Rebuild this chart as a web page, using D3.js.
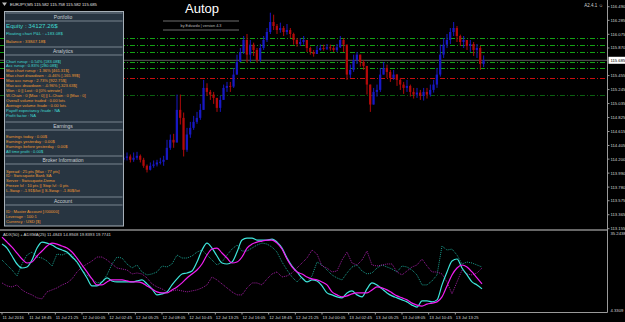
<!DOCTYPE html>
<html>
<head>
<meta charset="utf-8">
<script src="https://cdn.jsdelivr.net/npm/d3@7"></script>
<style>
  html, body { margin: 0; padding: 0; background: #000; }
  #chart { width: 625px; height: 322px; }
  text { font-family: "Liberation Sans", Arial, sans-serif; }
</style>
</head>
<body>
<div id="chart"></div>
<script>
// ---- data ----
const symbolLine = "EURJPY,M5 115.582 115.758 115.582 115.685";
const lastPrice = 115.685;

// 20 minute candles from 12 Jul 03:45 (older part is hidden behind the panel)
const firstOpen = 114.20;
const closes = [
  114.19, 114.22, 114.24, 114.19, 114.22, 114.25, 114.19, 114.10, 114.04, 114.10,
  114.12, 114.15, 114.16, 114.19, 114.37, 114.49, 114.45, 114.94, 114.82, 114.34,
  114.57, 114.67, 114.76, 114.82, 114.94, 115.27, 115.21, 115.17, 115.12, 114.97,
  115.09, 115.27, 115.30, 115.29, 115.47, 115.66, 115.81, 115.99, 115.77, 115.92,
  115.84, 115.69, 115.87, 115.99, 116.11, 116.26, 116.20, 116.14, 116.17, 116.11,
  116.14, 116.08, 115.99, 115.93, 115.96, 115.99, 115.87, 115.81, 115.78, 115.84,
  115.87, 115.86, 115.88, 115.87, 115.84, 115.88, 115.99, 115.92, 115.47, 115.54,
  115.69, 115.77, 115.66, 115.60, 115.32, 115.02, 115.21, 115.24, 115.47, 115.57,
  115.51, 115.42, 115.47, 115.39, 115.32, 115.27, 115.30, 115.21, 115.17, 115.20,
  115.15, 115.21, 115.17, 115.24, 115.32, 115.47, 115.77, 115.92, 115.99, 116.11,
  116.17, 116.05, 115.96, 115.99, 115.90, 115.93, 115.84, 115.87, 115.63, 115.685
];
const highs = [
  114.25, 114.28, 114.30, 114.27, 114.30, 114.31, 114.27, 114.22, 114.12, 114.15,
  114.18, 114.19, 114.22, 114.25, 114.49, 114.57, 114.58, 115.17, 115.17, 114.90,
  114.67, 114.76, 114.85, 114.91, 115.03, 115.39, 115.34, 115.24, 115.21, 115.09,
  115.15, 115.32, 115.36, 115.36, 115.57, 115.77, 115.87, 116.05, 116.08, 115.99,
  115.95, 115.87, 115.93, 116.05, 116.17, 116.40, 116.37, 116.23, 116.25, 116.20,
  116.23, 116.17, 116.10, 116.02, 116.02, 116.05, 115.99, 115.89, 115.84, 115.90,
  115.92, 115.92, 115.93, 115.92, 115.90, 115.93, 116.05, 116.02, 115.87, 115.62,
  115.77, 115.81, 115.72, 115.69, 115.51, 115.21, 115.27, 115.32, 115.57, 115.66,
  115.62, 115.54, 115.54, 115.48, 115.42, 115.36, 115.39, 115.32, 115.27, 115.27,
  115.24, 115.27, 115.27, 115.32, 115.39, 115.57, 115.92, 116.02, 116.08, 116.17,
  116.26, 116.20, 116.07, 116.05, 115.99, 115.99, 115.96, 115.93, 115.90, 115.758
];
const lows = [
  114.15, 114.16, 114.18, 114.15, 114.16, 114.19, 114.15, 114.07, 114.00, 114.03,
  114.07, 114.09, 114.12, 114.10, 114.19, 114.34, 114.37, 114.49, 114.72, 114.24,
  114.31, 114.52, 114.64, 114.73, 114.79, 114.97, 115.15, 115.09, 115.03, 114.91,
  114.91, 115.09, 115.21, 115.21, 115.27, 115.47, 115.66, 115.78, 115.65, 115.66,
  115.75, 115.65, 115.66, 115.84, 115.96, 116.08, 116.14, 116.08, 116.10, 116.05,
  116.07, 116.02, 115.92, 115.89, 115.90, 115.92, 115.81, 115.77, 115.74, 115.78,
  115.83, 115.83, 115.84, 115.83, 115.81, 115.81, 115.87, 115.81, 115.39, 115.42,
  115.51, 115.63, 115.59, 115.54, 115.17, 114.91, 115.09, 115.14, 115.21, 115.47,
  115.42, 115.36, 115.39, 115.30, 115.24, 115.18, 115.21, 115.14, 115.11, 115.12,
  115.09, 115.08, 115.11, 115.14, 115.20, 115.27, 115.44, 115.72, 115.87, 115.93,
  116.05, 115.96, 115.90, 115.87, 115.84, 115.81, 115.75, 115.72, 115.54, 115.582
];

// horizontal levels drawn by the EA
const greenLevels = [116.015, 115.910, 115.805, 115.655, 115.565];
const redLevels = [115.415];
const darkLevels = [115.168];

const priceTicks = [116.490, 116.285, 116.075, 115.870, 115.660, 115.455, 115.245, 115.035,
  114.825, 114.615, 114.405, 114.200, 113.990, 113.780, 113.575, 113.365, 113.155];

// ADX sub window, one value every 30 minutes from 11 Jul 16:05
const indTitle = "ADX(50) + ADXMA(25) 11.4843 14.8948 19.8393 19.7741";
const indTicks = [35.2438, 4.3309];
const adxMa = [
  33.6, 31.6, 29.6, 27.2, 24.8, 23.2, 23.6, 26.0, 28.0, 30.0,
  31.2, 30.8, 30.0, 29.2, 27.6, 25.2, 22.4, 19.6, 16.8, 14.4,
  14.4, 15.6, 16.4, 16.4, 16.4, 16.0, 15.6, 15.6, 15.2, 14.0,
  12.8, 11.6, 11.2, 11.2, 12.4, 13.6, 15.2, 17.2, 18.8, 20.4,
  22.8, 26.4, 28.8, 29.2, 27.2, 25.2, 23.2, 23.6, 25.6, 29.2,
  30.8, 31.6, 32.0, 32.4, 32.4, 31.2, 28.8, 24.8, 21.6, 19.6,
  18.8, 17.6, 16.8, 16.4, 15.6, 14.4, 11.6, 10.4, 9.6, 10.0,
  10.8, 11.2, 11.2, 11.2, 12.4, 13.6, 13.2, 12.4, 11.2, 10.0,
  9.2, 8.4, 7.1, 6.3, 5.9, 6.7, 7.1, 7.6, 9.6, 14.0,
  18.4, 21.2, 22.4, 21.6, 19.6, 17.2, 14.8
];
const adx = [
  30.8, 29.2, 26.0, 22.8, 21.2, 21.6, 24.4, 29.2, 31.6, 31.2,
  30.4, 29.2, 28.4, 27.6, 25.6, 23.6, 20.4, 17.2, 14.0, 14.0,
  15.6, 17.2, 16.0, 15.6, 15.6, 15.6, 15.6, 16.0, 16.4, 14.8,
  12.8, 10.4, 10.8, 11.6, 14.4, 16.8, 18.8, 19.2, 20.0, 23.6,
  28.4, 31.2, 29.2, 26.0, 23.2, 22.8, 23.6, 27.6, 32.4, 33.2,
  33.2, 32.4, 32.4, 32.4, 32.8, 31.6, 29.2, 25.2, 22.0, 19.6,
  17.2, 15.6, 16.4, 16.0, 14.0, 11.2, 10.4, 9.6, 9.2, 11.2,
  12.0, 10.4, 9.6, 12.8, 15.2, 14.4, 12.8, 11.2, 10.0, 9.2,
  8.4, 7.6, 6.3, 5.5, 8.0, 8.0, 7.6, 8.4, 14.4, 19.6,
  24.0, 24.8, 21.2, 18.4, 15.6, 14.4, 12.8
];
const plusDi = [
  24.4, 22.4, 20.4, 18.0, 22.8, 26.4, 27.6, 25.6, 25.2, 24.0,
  22.0, 26.8, 26.4, 27.2, 26.4, 23.2, 20.4, 18.4, 16.8, 15.2,
  15.6, 18.4, 22.8, 25.6, 25.2, 22.8, 21.2, 22.4, 19.6, 18.4,
  18.8, 19.6, 22.0, 21.6, 22.8, 26.4, 25.2, 25.2, 26.0, 27.6,
  28.4, 26.4, 24.4, 22.4, 23.6, 26.4, 28.8, 30.4, 28.0, 28.0,
  29.2, 30.4, 31.2, 30.8, 29.6, 27.6, 23.6, 20.4, 17.6, 15.6,
  17.6, 15.6, 18.0, 23.6, 22.4, 20.4, 18.4, 17.2, 16.4, 19.2,
  21.6, 22.4, 20.0, 18.8, 19.2, 21.2, 22.4, 21.6, 20.8, 19.6,
  22.0, 21.6, 20.4, 18.4, 14.4, 14.4, 16.0, 18.4, 30.0, 28.4,
  28.8, 26.4, 22.8, 23.6, 23.2, 22.4, 21.6
];
const minusDi = [
  15.2, 14.0, 13.6, 14.4, 12.4, 11.2, 10.4, 9.2, 8.8, 11.6,
  12.4, 13.2, 14.4, 15.2, 16.8, 19.6, 21.6, 22.8, 24.0, 25.6,
  25.6, 24.4, 22.8, 21.2, 20.8, 20.4, 18.8, 19.2, 18.8, 17.2,
  14.8, 13.6, 12.8, 11.6, 12.0, 12.4, 12.0, 11.6, 12.0, 12.4,
  13.2, 14.4, 17.6, 16.4, 14.8, 13.2, 11.6, 10.4, 10.4, 13.2,
  15.2, 15.2, 14.4, 16.8, 18.8, 19.6, 17.6, 18.0, 19.2, 21.2,
  23.2, 25.2, 28.4, 26.8, 22.0, 21.2, 19.6, 20.0, 24.4, 27.6,
  23.2, 22.4, 24.4, 28.0, 22.4, 22.0, 22.4, 22.8, 22.8, 19.6,
  18.4, 20.0, 21.6, 22.4, 24.8, 22.0, 19.6, 19.6, 18.8, 15.6,
  10.8, 15.6, 20.4, 18.8, 18.4, 19.2, 21.2
];

const timeLabels = ["11 Jul 2016", "11 Jul 18:45", "11 Jul 21:25", "12 Jul 00:05", "12 Jul 02:45",
  "12 Jul 05:25", "12 Jul 08:05", "12 Jul 10:45", "12 Jul 13:25", "12 Jul 16:05", "12 Jul 18:45",
  "12 Jul 21:25", "13 Jul 00:05", "13 Jul 02:45", "13 Jul 05:25", "13 Jul 08:05", "13 Jul 10:45",
  "13 Jul 13:25"];

// info panel text
const portfolioLines = ["Equity : 34127.26$", "Floating chart P&L : +183.08$", "Balance : 33847.18$"];
const portfolioTone = ["up", "up", "down"];
const analyticsLines = [
  "Chart runup : 0.54% [183.08$]",
  "Acc runup : 0.83% [280.08$]",
  "Max chart runup : 1.36% [461.31$]",
  "Max chart drawdown : -0.46% [-165.99$]",
  "Max acc runup : 2.73% [922.75$]",
  "Max acc drawdown : -0.96% [-323.63$]",
  "Won : 0 || Lost : 0 [0% winrate]",
  "W-Chain : 0 [Max : 0] || L-Chain : 0 [Max : 0]",
  "Overall volume traded : 0.00 lots",
  "Average volume /trade : 0.00 lots",
  "Payoff expectancy /trade : NA",
  "Profit factor : NA"
];
const analyticsTone = ["up", "up", "down", "down", "down", "down", "down", "down", "down", "down", "up", "up"];
const earningsLines = ["Earnings today : 0.00$", "Earnings yesterday : 0.00$",
  "Earnings before yesterday : 0.00$", "All time profit : 0.00$"];
const earningsTone = ["down", "down", "down", "up"];
const brokerLines = ["Spread : 25 pts [Max : 77 pts]", "ID : Swissquote Bank SA", "Server : Swissquote-Demo",
  "Freeze lvl : 10 pts || Stop lvl : 0 pts", "L-Swap : -1.91$/lot || S-Swap : -1.80$/lot"];
const accountLines = ["ID : Master Account [#00000]", "Leverage : 100:1", "Currency : USD [$]"];

// ---- layout ----
const width = 625, height = 322;
const axisX = 607.5;
const sepY = 230;
const subBottom = 312.5;
const toneColor = { up: "#3fd9cf", down: "#ef9a33" };
const bullColor = "#1818c4";
const bearColor = "#b30a0a";

let svg = d3.select("#chart").append("svg")
  .attr("width", width)
  .attr("height", height)
  .attr("viewBox", `0 0 ${width} ${height}`)
  .style("background", "#000");

// scales
const t0 = new Date(2016, 6, 11, 16, 5);
const x = d3.scaleTime()
  .domain([t0, d3.timeMinute.offset(t0, 48 * 60)])
  .range([2, 482]);
const y = d3.scaleLinear().domain([113.155, 116.490]).range([228.7, 6.7]);
const yInd = d3.scaleLinear().domain([4.3309, 35.2438]).range([310, 233]);

svg.append("clipPath").attr("id", "mainClip")
  .append("rect").attr("x", 0).attr("y", 0).attr("width", axisX).attr("height", sepY - 1);
svg.append("clipPath").attr("id", "subClip")
  .append("rect").attr("x", 0).attr("y", sepY + 1).attr("width", axisX).attr("height", subBottom - sepY - 1.5);

let main = svg.append("g").attr("clip-path", "url(#mainClip)");

// 1: level lines
function levelLines(levels, color) {
  main.selectAll(null)
    .data(levels)
    .join("line")
    .attr("x1", 0).attr("x2", axisX)
    .attr("y1", d => Math.round(y(d)) + 0.5)
    .attr("y2", d => Math.round(y(d)) + 0.5)
    .attr("stroke", color)
    .attr("stroke-width", 1)
    .attr("stroke-dasharray", "5,2,1,2");
}
levelLines(greenLevels, "#14a014");
levelLines(redLevels, "#c80f0f");
levelLines(darkLevels, "#0a5f10");

// current price line
main.append("line")
  .attr("x1", 0).attr("x2", axisX)
  .attr("y1", y(lastPrice)).attr("y2", y(lastPrice))
  .attr("stroke", "#5e5e5e")
  .attr("stroke-width", 1);

// 2: candles
const candleStart = new Date(2016, 6, 12, 3, 45);
const candles = closes.map((c, i) => ({
  t: d3.timeMinute.offset(candleStart, i * 20),
  o: i === 0 ? firstOpen : closes[i - 1],
  h: highs[i], l: lows[i], c: c
}));

let cg = main.selectAll(".candle")
  .data(candles)
  .join("g")
  .attr("class", "candle");

cg.append("line")
  .attr("x1", d => x(d3.timeMinute.offset(d.t, 10)))
  .attr("x2", d => x(d3.timeMinute.offset(d.t, 10)))
  .attr("y1", d => y(Math.max(d.h, d.o, d.c)))
  .attr("y2", d => y(Math.min(d.l, d.o, d.c)))
  .attr("stroke", d => d.c >= d.o ? bullColor : bearColor)
  .attr("stroke-width", 1);

cg.append("rect")
  .attr("x", d => x(d.t) + 0.4)
  .attr("width", d => x(d3.timeMinute.offset(d.t, 20)) - x(d.t) - 1.1)
  .attr("y", d => y(Math.max(d.o, d.c)))
  .attr("height", d => Math.max(1, Math.abs(y(d.o) - y(d.c))))
  .attr("fill", d => d.c >= d.o ? bullColor : bearColor);

// 3: ADX sub window
let sub = svg.append("g").attr("clip-path", "url(#subClip)");
const indTime = i => d3.timeMinute.offset(t0, i * 30);

const dotted = d3.line().x((d, i) => x(indTime(i))).y(d => yInd(d));
const smooth = d3.line().x((d, i) => x(indTime(i))).y(d => yInd(d)).curve(d3.curveMonotoneX);

sub.append("path").attr("d", dotted(plusDi))
  .attr("fill", "none").attr("stroke", "#1a9c8c").attr("stroke-width", 1)
  .attr("stroke-dasharray", "1,1");
sub.append("path").attr("d", dotted(minusDi))
  .attr("fill", "none").attr("stroke", "#9c1c9c").attr("stroke-width", 1)
  .attr("stroke-dasharray", "1,1");
sub.append("path").attr("d", smooth(adx))
  .attr("fill", "none").attr("stroke", "#3ee6dc").attr("stroke-width", 1.2);
sub.append("path").attr("d", smooth(adxMa))
  .attr("fill", "none").attr("stroke", "#f21ef2").attr("stroke-width", 1.2);

svg.append("text")
  .attr("x", 3).attr("y", 236)
  .attr("fill", "#d8d8d8")
  .attr("font-size", "4.2px")
  .text(indTitle);

// 4: frame, axes
svg.append("line")
  .attr("x1", 0).attr("x2", axisX).attr("y1", sepY).attr("y2", sepY)
  .attr("stroke", "#8a8a8a").attr("stroke-width", 1.6);
svg.append("line")
  .attr("x1", 0).attr("x2", axisX).attr("y1", subBottom).attr("y2", subBottom)
  .attr("stroke", "#9a9a9a").attr("stroke-width", 1);
svg.append("line")
  .attr("x1", axisX).attr("x2", axisX).attr("y1", 0).attr("y2", subBottom)
  .attr("stroke", "#9a9a9a").attr("stroke-width", 1);

// tick under the price tag is covered by the tag
const shownTicks = priceTicks.filter(d => Math.abs(y(d) - y(lastPrice)) > 5);

svg.selectAll(".ptick")
  .data(shownTicks)
  .join("text")
  .attr("class", "ptick")
  .attr("x", axisX + 3)
  .attr("y", d => y(d) + 1.5)
  .attr("fill", "#d6d6d6")
  .attr("font-size", "4.2px")
  .text(d => d.toFixed(3));
svg.selectAll(".ptickmark")
  .data(shownTicks)
  .join("line")
  .attr("class", "ptickmark")
  .attr("x1", axisX).attr("x2", axisX + 2)
  .attr("y1", d => y(d)).attr("y2", d => y(d))
  .attr("stroke", "#9a9a9a");

// current price tag
svg.append("rect")
  .attr("x", axisX + 1).attr("y", y(lastPrice) - 3.5)
  .attr("width", width - axisX - 1).attr("height", 7)
  .attr("fill", "#ffffff");
svg.append("text")
  .attr("x", axisX + 3).attr("y", y(lastPrice) + 1.5)
  .attr("fill", "#000")
  .attr("font-size", "4.2px")
  .text(lastPrice.toFixed(3));

svg.selectAll(".itick")
  .data(indTicks)
  .join("text")
  .attr("class", "itick")
  .attr("x", axisX + 3)
  .attr("y", d => yInd(d) + 2)
  .attr("fill", "#d6d6d6")
  .attr("font-size", "4.2px")
  .text(d => d.toFixed(4));

// time axis
svg.selectAll(".ttick")
  .data(timeLabels)
  .join("text")
  .attr("class", "ttick")
  .attr("x", (d, i) => x(d3.timeMinute.offset(t0, i * 160)) + 0.5)
  .attr("y", 318.5)
  .attr("fill", "#d6d6d6")
  .attr("font-size", "4.2px")
  .text(d => d);
svg.selectAll(".ttickmark")
  .data(timeLabels)
  .join("line")
  .attr("class", "ttickmark")
  .attr("x1", (d, i) => x(d3.timeMinute.offset(t0, i * 160)))
  .attr("x2", (d, i) => x(d3.timeMinute.offset(t0, i * 160)))
  .attr("y1", subBottom).attr("y2", subBottom + 2)
  .attr("stroke", "#9a9a9a");

// header texts
svg.append("text")
  .attr("x", 10).attr("y", 5.5)
  .attr("fill", "#e0e0e0")
  .attr("font-size", "4.2px")
  .text(symbolLine);
svg.append("path")
  .attr("d", "M2,2.5 L7,2.5 L4.5,6 Z")
  .attr("fill", "#bbbbbb");
svg.append("text")
  .attr("x", 603).attr("y", 7)
  .attr("text-anchor", "end")
  .attr("fill", "#cfcfcf")
  .attr("font-size", "4.5px")
  .text("A2.4.1 \u263A");

// 5: title
svg.append("text")
  .attr("x", 202).attr("y", 12.6)
  .attr("text-anchor", "middle")
  .attr("fill", "#ffffff")
  .attr("font-size", "13px")
  .text("Autop");
[21, 30].forEach(ly => svg.append("line")
  .attr("x1", 163).attr("x2", 239).attr("y1", ly).attr("y2", ly)
  .attr("stroke", "#8c8c8c").attr("stroke-width", 0.8));
svg.append("text")
  .attr("x", 201).attr("y", 27)
  .attr("text-anchor", "middle")
  .attr("fill", "#bdbdbd")
  .attr("font-size", "3.8px")
  .text("by Edvardo | version 4.3");

// 6: info panel
let panel = svg.append("g");
panel.append("rect")
  .attr("x", 4.5).attr("y", 11.5)
  .attr("width", 119).attr("height", 214.5)
  .attr("fill", "#283541")
  .attr("stroke", "#a7b0b8")
  .attr("stroke-width", 1);

function header(title, cy) {
  [cy - 4, cy + 4].forEach(ly => panel.append("line")
    .attr("x1", 5.5).attr("x2", 122.5).attr("y1", ly).attr("y2", ly)
    .attr("stroke", "#8e99a3").attr("stroke-width", 0.8));
  panel.append("text")
    .attr("x", 63).attr("y", cy + 1.7)
    .attr("text-anchor", "middle")
    .attr("fill", "#c9cfd4")
    .attr("font-size", "5px")
    .text(title);
}

function block(lines, tones, y0, step, size) {
  panel.selectAll(null)
    .data(lines)
    .join("text")
    .attr("x", 6)
    .attr("y", (d, i) => y0 + i * step + 1.5)
    .attr("fill", (d, i) => toneColor[tones ? tones[i] : "down"])
    .attr("font-size", size + "px")
    .text(d => d);
}

header("Portfolio", 17);
panel.append("text")
  .attr("x", 6).attr("y", 28.3)
  .attr("fill", toneColor[portfolioTone[0]])
  .attr("font-size", "6.2px")
  .text(portfolioLines[0]);
block(portfolioLines.slice(1), portfolioTone.slice(1), 33.5, 7.5, 4.3);

header("Analytics", 51);
block(analyticsLines, analyticsTone, 61, 4.95, 4.1);

header("Earnings", 126);
block(earningsLines, earningsTone, 136.6, 4.8, 4.1);

header("Broker Information", 160);
block(brokerLines, null, 171, 4.75, 4.1);

header("Account", 201);
block(accountLines, null, 211.5, 5, 4.1);
</script>
</body>
</html>
